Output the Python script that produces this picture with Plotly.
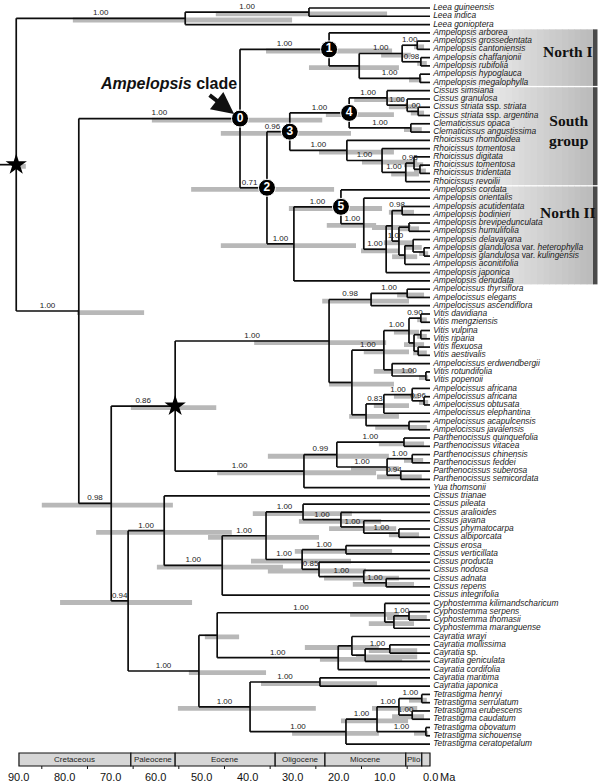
import plotly.graph_objects as go

# ---------------- DATA ----------------
tip_names = [
    "Leea guineensis", "Leea indica", "Leea gonioptera",
    "Ampelopsis arborea", "Ampelopsis grossedentata", "Ampelopsis cantoniensis",
    "Ampelopsis chaffanjonii", "Ampelopsis rubifolia", "Ampelopsis hypoglauca",
    "Ampelopsis megalophylla",
    "Cissus simsiana", "Cissus granulosa", "Cissus striata ssp. striata",
    "Cissus striata ssp. argentina", "Clematicissus opaca", "Clematicissus angustissima",
    "Rhoicissus rhomboidea", "Rhoicissus tomentosa", "Rhoicissus digitata",
    "Rhoicissus tomentosa", "Rhoicissus tridentata", "Rhoicissus revoilii",
    "Ampelopsis cordata", "Ampelopsis orientalis", "Ampelopsis acutidentata",
    "Ampelopsis bodinieri", "Ampelopsis brevipedunculata", "Ampelopsis humulifolia",
    "Ampelopsis delavayana", "Ampelopsis glandulosa var. heterophylla",
    "Ampelopsis glandulosa var. kulingensis", "Ampelopsis aconitifolia",
    "Ampelopsis japonica", "Ampelopsis denudata",
    "Ampelocissus thyrsiflora", "Ampelocissus elegans", "Ampelocissus ascendiflora",
    "Vitis davidiana", "Vitis mengziensis", "Vitis vulpina", "Vitis riparia",
    "Vitis flexuosa", "Vitis aestivalis",
    "Ampelocissus erdwendbergii", "Vitis rotundifolia", "Vitis popenoii",
    "Ampelocissus africana", "Ampelocissus africana", "Ampelocissus obtusata",
    "Ampelocissus elephantina", "Ampelocissus acapulcensis", "Ampelocissus javalensis",
    "Parthenocissus quinquefolia", "Parthenocissus vitacea", "Parthenocissus chinensis",
    "Parthenocissus feddei", "Parthenocissus suberosa", "Parthenocissus semicordata",
    "Yua thomsonii",
    "Cissus trianae", "Cissus pileata", "Cissus aralioides", "Cissus javana",
    "Cissus phymatocarpa", "Cissus albiporcata", "Cissus erosa", "Cissus verticillata",
    "Cissus producta", "Cissus nodosa", "Cissus adnata", "Cissus repens",
    "Cissus integrifolia",
    "Cyphostemma kilimandscharicum", "Cyphostemma serpens", "Cyphostemma thomasii",
    "Cyphostemma maranguense",
    "Cayratia wrayi", "Cayratia mollissima", "Cayratia sp.", "Cayratia geniculata",
    "Cayratia cordifolia", "Cayratia maritima", "Cayratia japonica",
    "Tetrastigma henryi", "Tetrastigma serrulatum", "Tetrastigma erubescens",
    "Tetrastigma caudatum", "Tetrastigma obovatum", "Tetrastigma sichouense",
    "Tetrastigma ceratopetalum",
]

# topology (tips are indices into tip_names, internal nodes are named)
topo_leea = "((0,1)nLeea2,2)nLeea"
topo_north1 = "(3,(((4,5)n1e,(6,7)n1f)n1c,(8,9)n1d)n1b)n1"
topo_south = ("(((10,(11,(12,13)n4d)n4c)n4a,(14,15)n4b)n4,"
              "(16,(17,((18,(19,20)nZ)nY,21)nX)nR2)nR1)n3")
topo_north2 = ("((22,(23,(((24,25)n5d,((26,27)nP4,((28,(29,30)nP1)nP2,31)nP3)nP5)nQ,32)n5c)n5b)n5,33)nN0")
topo_amp = "(" + topo_north1 + ",(" + topo_south + "," + topo_north2 + ")n2)n0"
topo_va = ("(((34,35)nAmc2,36)nAmc,((((37,38)nV4,((39,40)nV6a,(41,42)nV6b)nV5)nV3,"
           "(43,(44,45)nV8)nV7)nV2,(((46,(47,48)nAf4)nAf3,49)nAf2,(50,51)nAf5)nAf)nV1)nVA")
topo_par = "(((52,53)nPa2,((54,55)nPa4,(56,57)nPa5)nPa3)nPa1,58)nPar"
topo_cis = ("(59,(((60,(61,(62,(63,64)nC7)nC6)nC5)nC4,((65,66)nC9,(67,(68,(69,70)nC12)nC11)nC10)nC8)nC3,71)nC2)nCis")
topo_cct = ("(((72,((73,74)nCy3,75)nCy2)nCy,((76,((77,78)nCa4,79)nCa3)nCa2,80)nCa)nCC,"
            "((81,82)nCm,((((83,84)nT4,(85,86)nT5)nT3,(87,88)nT6)nT2,89)nT)nCT)nCCT")
newick = ("(" + topo_leea + ",(" + topo_amp + ",((" + topo_va + "," + topo_par + ")nStar,("
          + topo_cis + "," + topo_cct + ")n94)n_rest)nCore)root;")

node_names = ["root", "nLeea", "nLeea2", "nCore", "n0", "n1", "n1b", "n1c", "n1e", "n1f", "n1d",
              "n2", "n3", "n4", "n4a", "n4c", "n4d", "n4b", "nR1", "nR2", "nX", "nY", "nZ",
              "nN0", "n5", "n5b", "n5c", "nQ", "n5d", "nP5", "nP4", "nP3", "nP2", "nP1",
              "n_rest", "nStar", "nVA", "nAmc", "nAmc2", "nV1", "nV2", "nV3", "nV4", "nV5",
              "nV6a", "nV6b", "nV7", "nV8", "nAf", "nAf2", "nAf3", "nAf4", "nAf5",
              "nPar", "nPa1", "nPa2", "nPa3", "nPa4", "nPa5",
              "n94", "nCis", "nC2", "nC3", "nC4", "nC5", "nC6", "nC7", "nC8", "nC9", "nC10",
              "nC11", "nC12", "nCCT", "nCC", "nCy", "nCy2", "nCy3", "nCa", "nCa2", "nCa3",
              "nCa4", "nCT", "nCm", "nT", "nT2", "nT3", "nT4", "nT5", "nT6"]
node_ages = [90.6, 53.6, 26.5, 76.9, 41.6, 22.1, 15.5, 6.1, 2.8, 2.0, 2.2,
             35.7, 30.7, 17.7, 9.4, 5.0, 2.6, 4.2, 18.2, 10.5, 5.3, 3.5, 2.2,
             29.8, 19.5, 14.5, 9.6, 8.3, 6.1, 6.8, 4.6, 5.5, 3.7, 1.3,
             69.8, 55.8, 22.1, 12.9, 5.0, 17.1, 10.1, 4.6, 2.0, 3.5,
             2.0, 2.6, 8.3, 0.9, 14.0, 10.1, 3.9, 1.3, 4.6,
             27.6, 20.4, 5.7, 9.4, 3.9, 6.4,
             66.1, 58.2, 45.5, 35.9, 27.8, 19.5, 14.5, 6.8, 28.0, 18.4, 24.3,
             14.5, 9.6, 50.6, 46.6, 9.9, 7.9, 4.6, 20.1, 17.1, 14.2,
             8.8, 39.4, 24.1, 18.4, 11.6, 6.8, 1.8, 3.9, 0.9]
node_support = [None, "1.00", "1.00", "1.00", "1.00", "1.00", None, "1.00", "1.00", "0.98", "1.00",
                "0.71", "0.96", "1.00", "1.00", "1.00", "1.00", "1.00", "1.00", "1.00", "1.00", "0.93", None,
                "1.00", "1.00", "1.00", "1.00", None, "0.98", "1.00", None, None, None, None,
                "0.98", "0.86", "1.00", "0.98", "1.00", None, "1.00", "1.00", "0.90", None,
                None, None, None, "1.00", None, "0.83", "1.00", "0.96", None,
                "1.00", "0.99", "1.00", "1.00", "1.00", "0.94",
                "0.94", "1.00", "1.00", "1.00", "1.00", "1.00", "1.00", "1.00", "1.00", "1.00", "0.85",
                "1.00", "1.00", "1.00", None, "1.00", None, "1.00", "1.00", None, None,
                "1.00", "1.00", "1.00", "1.00", "1.00", "1.00", "1.00", "1.00", "1.00"]
hpd_old = [90.4, 78.2, 46.9, 77.3, 60.9, 35.9, 26.5, 10.7, 3.5, 2.8, 4.6,
           52.3, 45.8, 22.8, 16.6, 9.0, 4.2, 5.7, 24.3, 14.9, 8.5, 5.7, 3.5,
           45.8, 30.9, 22.6, 15.1, 12.7, 9.0, 10.1, 6.8, 8.3, 5.7, 2.4,
           85.0, 65.5, 38.5, 23.6, 7.2, 22.1, 14.5, 7.9, 2.8, 5.7,
           2.8, 3.7, 12.3, 2.4, 17.7, 12.3, 7.9, 2.4, 12.0,
           46.6, 35.5, 11.2, 17.3, 5.7, 11.6,
           81.0, 73.1, 59.8, 48.6, 38.8, 28.7, 22.1, 9.0, 39.2, 29.6, 35.5,
           23.2, 16.9, 52.8, 49.3, 17.5, 13.4, 9.4, 24.1, 27.4, 16.2,
           13.4, 55.2, 37.0, 30.2, 19.5, 12.7, 4.6, 8.3, 3.5]
hpd_young = [88.5, 30.2, 9.4, 62.6, 23.6, 8.3, 6.8, 4.2, 1.3, 0.7, 1.8,
             21.0, 17.3, 7.9, 5.7, 2.8, 1.3, 1.8, 7.9, 2.8, 2.4, 1.5, 0.9,
             16.2, 10.5, 11.8, 6.8, 4.2, 3.5, 3.9, 2.4, 2.8, 1.8, 0.4,
             56.3, 46.8, 9.6, 4.6, 1.3, 7.9, 4.6, 2.4, 0.7, 1.3,
             0.7, 0.7, 3.5, 0.4, 6.8, 4.6, 2.4, 0.4, 0.7,
             11.8, 9.0, 1.3, 6.8, 1.5, 1.8,
             52.1, 43.4, 32.2, 24.3, 17.1, 10.7, 7.4, 2.4, 17.3, 8.3, 14.0,
             6.8, 3.5, 35.9, 41.8, 6.8, 3.5, 0.7, 6.1, 11.2, 2.8,
             2.8, 25.0, 11.6, 11.2, 4.8, 2.8, 0.7, 1.3, 0.4]

numbered_nodes = ["n0", "n1", "n2", "n3", "n4", "n5"]
numbered_labels = ["0", "1", "2", "3", "4", "5"]
star_nodes = ["root", "nStar"]

clade_names = ["North I", "South<br>group", "North II"]
clade_first_tip = [3, 10, 22]
clade_last_tip = [9, 21, 33]

period_names = ["Cretaceous", "Paleocene", "Eocene", "Oligocene", "Miocene", "Plio", ""]
period_old = [90.0, 65.5, 55.8, 33.9, 23.0, 5.3, 1.8]
period_young = [65.5, 55.8, 33.9, 23.0, 5.3, 1.8, 0.0]
tick_values = [90, 80, 70, 60, 50, 40, 30, 20, 10, 0]
minor_ticks = [85, 75, 65, 55, 45, 35, 25, 15, 5]

assert len(tip_names) == 90
assert len(node_names) == len(node_ages) == len(node_support) == len(hpd_old) == len(hpd_young)

# ---------------- TREE PARSING ----------------
age_of = dict(zip(node_names, node_ages))
sup_of = dict(zip(node_names, node_support))
hpd_of = {n: (a, b) for n, a, b in zip(node_names, hpd_old, hpd_young)}


def parse(s):
    pos = 0

    def node():
        nonlocal pos
        if s[pos] == '(':
            pos += 1
            kids = [node()]
            while s[pos] == ',':
                pos += 1
                kids.append(node())
            pos += 1  # ')'
            st = pos
            while pos < len(s) and s[pos] not in ',();':
                pos += 1
            return {"name": s[st:pos], "kids": kids}
        st = pos
        while s[pos] not in ',();':
            pos += 1
        return {"name": int(s[st:pos]), "kids": None}
    return node()


tree = parse(newick)


def layout(nd):
    if nd["kids"] is None:
        nd["y"] = nd["name"]
        nd["age"] = 0.0
    else:
        for k in nd["kids"]:
            layout(k)
        nd["y"] = (nd["kids"][0]["y"] + nd["kids"][-1]["y"]) / 2.0
        nd["age"] = age_of[nd["name"]]


layout(tree)

branch_x, branch_y = [], []
bar_x, bar_y = [], []
sup_x, sup_y, sup_t = [], [], []
pos_of = {}


def walk(nd, parent_age):
    if nd["kids"] is None:
        return
    name = nd["name"]
    pos_of[name] = (nd["age"], nd["y"])
    lo, hi = hpd_of[name]
    bar_x.extend([lo, hi, None])
    bar_y.extend([nd["y"] + 0.2, nd["y"] + 0.2, None])
    if sup_of[name] and parent_age is not None:
        mid = (parent_age + nd["age"]) / 2.0
        if name in numbered_nodes:
            mid = max(mid, nd["age"] + 3.8)  # keep clear of the numbered disc
        sup_x.append(mid)
        sup_y.append(nd["y"] - 0.62)
        sup_t.append(sup_of[name])
    ys = [k["y"] for k in nd["kids"]]
    branch_x.extend([nd["age"], nd["age"], None])
    branch_y.extend([min(ys), max(ys), None])
    for k in nd["kids"]:
        branch_x.extend([nd["age"], k["age"], None])
        branch_y.extend([k["y"], k["y"], None])
        walk(k, nd["age"])


walk(tree, None)
# root stem
branch_x.extend([tree["age"] + 4.0, tree["age"], None])
branch_y.extend([tree["y"], tree["y"], None])

# ---------------- FIGURE ----------------
W, H = 600, 784
PX_PER_MA = 4.567
TIP_PX = 430.0
x_range = [TIP_PX / PX_PER_MA, (TIP_PX - W) / PX_PER_MA]
Y0, DY = 8.0, 8.27
y_range = [(H - Y0) / DY, -Y0 / DY]


def px_x(px):
    return px / W


def px_y(py):
    return 1 - py / H


fig = go.Figure()

fig.add_trace(go.Scatter(x=bar_x, y=bar_y, mode="lines",
                         line=dict(color="#b8b8b8", width=4.8), hoverinfo="skip"))
fig.add_trace(go.Scatter(x=branch_x, y=branch_y, mode="lines",
                         line=dict(color="#0d0d0d", width=1.7), hoverinfo="skip"))


def fmt(name):
    out = []
    for w in name.split(" "):
        if w in ("ssp.", "var.", "sp."):
            out.append(w)
        else:
            out.append("<i>" + w + "</i>")
    return " ".join(out)


fig.add_trace(go.Scatter(x=[-0.7] * len(tip_names), y=list(range(len(tip_names))),
                         mode="text", text=[fmt(n) for n in tip_names],
                         textposition="middle right",
                         textfont=dict(family="Liberation Sans, Arial", size=8.4, color="#1a1a1a"),
                         hoverinfo="skip"))

fig.add_trace(go.Scatter(x=sup_x, y=sup_y, mode="text", text=sup_t,
                         textposition="middle center",
                         textfont=dict(family="Liberation Sans, Arial", size=8, color="#222222"),
                         hoverinfo="skip"))

fig.add_trace(go.Scatter(x=[pos_of[n][0] for n in star_nodes],
                         y=[pos_of[n][1] for n in star_nodes], mode="markers",
                         marker=dict(symbol="star", size=16, color="#000000"), hoverinfo="skip"))

fig.add_trace(go.Scatter(x=[pos_of[n][0] for n in numbered_nodes],
                         y=[pos_of[n][1] for n in numbered_nodes], mode="markers+text",
                         marker=dict(symbol="circle", size=17, color="#000000",
                                     line=dict(color="#ffffff", width=1)),
                         text=["<b>" + t + "</b>" for t in numbered_labels],
                         textposition="middle center",
                         textfont=dict(family="Liberation Sans, Arial", size=12, color="#ffffff"),
                         hoverinfo="skip"))

shapes = []
annotations = []

# clade boxes with horizontal gradient
n_strips = 26
bx0, bx1 = 431.0, 593.0
for f, l in zip(clade_first_tip, clade_last_tip):
    y_top = f - 0.5 + 0.08
    y_bot = l + 0.5 - 0.08
    for s in range(n_strips):
        g = int(253 - (253 - 188) * (s / (n_strips - 1)) ** 1.1)
        xa = bx0 + (bx1 - bx0) * s / n_strips
        xb = bx0 + (bx1 - bx0) * (s + 1) / n_strips + 0.6
        shapes.append(dict(type="rect", xref="paper", yref="y", layer="below",
                           x0=px_x(xa), x1=px_x(xb), y0=y_top, y1=y_bot,
                           fillcolor="rgb(%d,%d,%d)" % (g, g, g), line=dict(width=0)))
    shapes.append(dict(type="rect", xref="paper", yref="y", layer="below",
                       x0=px_x(593), x1=px_x(597.5), y0=y_top, y1=y_bot,
                       fillcolor="#4a4a4a", line=dict(width=0)))

clade_label_y = [(clade_first_tip[0] + clade_last_tip[0]) / 2.0 - 0.7,
                 (14 + 16) / 2.0 - 0.2,
                 (24 + 25) / 2.0 + 0.2]
for nm, yy in zip(clade_names, clade_label_y):
    annotations.append(dict(xref="paper", yref="y", x=px_x(568), y=yy,
                            xanchor="center", yanchor="middle",
                            text="<b>" + nm + "</b>", showarrow=False,
                            font=dict(family="Liberation Serif, Times New Roman", size=15.5,
                                      color="#111111"),
                            align="center"))

# Ampelopsis clade label and arrow
n0x, n0y = pos_of["n0"]
annotations.append(dict(xref="paper", yref="paper", x=px_x(168), y=px_y(83),
                        xanchor="center", yanchor="middle",
                        text="<b><i>Ampelopsis</i> clade</b>", showarrow=False,
                        font=dict(family="Liberation Sans, Arial", size=16, color="#111111")))
annotations.append(dict(xref="x", yref="y", x=n0x + 1.3, y=n0y - 0.55,
                        ax=-26, ay=-20, showarrow=True, arrowhead=2, arrowsize=1.1,
                        arrowwidth=4, arrowcolor="#111111", text=""))

# time scale
bar_top, bar_bot = 753.0, 766.0
for nm, o, yg in zip(period_names, period_old, period_young):
    shapes.append(dict(type="rect", xref="x", yref="paper", x0=o, x1=yg,
                       y0=px_y(bar_bot), y1=px_y(bar_top),
                       fillcolor="#d6d6d6", line=dict(color="#111111", width=1.2)))
    if nm:
        annotations.append(dict(xref="x", yref="paper", x=(o + yg) / 2.0,
                                y=px_y((bar_top + bar_bot) / 2.0), text=nm, showarrow=False,
                                xanchor="center", yanchor="middle",
                                font=dict(family="Liberation Sans, Arial", size=8, color="#222222")))
for t in minor_ticks:
    shapes.append(dict(type="line", xref="x", yref="paper", x0=t, x1=t,
                       y0=px_y(bar_bot), y1=px_y(bar_bot + 3), line=dict(color="#111111", width=1)))
for t in tick_values:
    annotations.append(dict(xref="x", yref="paper", x=t, y=px_y(777),
                            xanchor="center", yanchor="middle",
                            text="%.1f" % t, showarrow=False,
                            font=dict(family="Liberation Sans, Arial", size=11, color="#111111")))
annotations.append(dict(xref="x", yref="paper", x=-3.9, y=px_y(777), text="Ma", showarrow=False,
                        xanchor="center", yanchor="middle",
                        font=dict(family="Liberation Sans, Arial", size=11, color="#111111")))

fig.update_layout(
    width=W, height=H, margin=dict(l=0, r=0, t=0, b=0),
    paper_bgcolor="white", plot_bgcolor="white", showlegend=False,
    xaxis=dict(range=x_range, visible=False, fixedrange=True),
    yaxis=dict(range=y_range, visible=False, fixedrange=True),
    shapes=shapes, annotations=annotations,
)

fig.write_html("out.html", config={"displayModeBar": False},
               post_script="document.body.style.margin='0px';document.body.style.padding='0px';")
